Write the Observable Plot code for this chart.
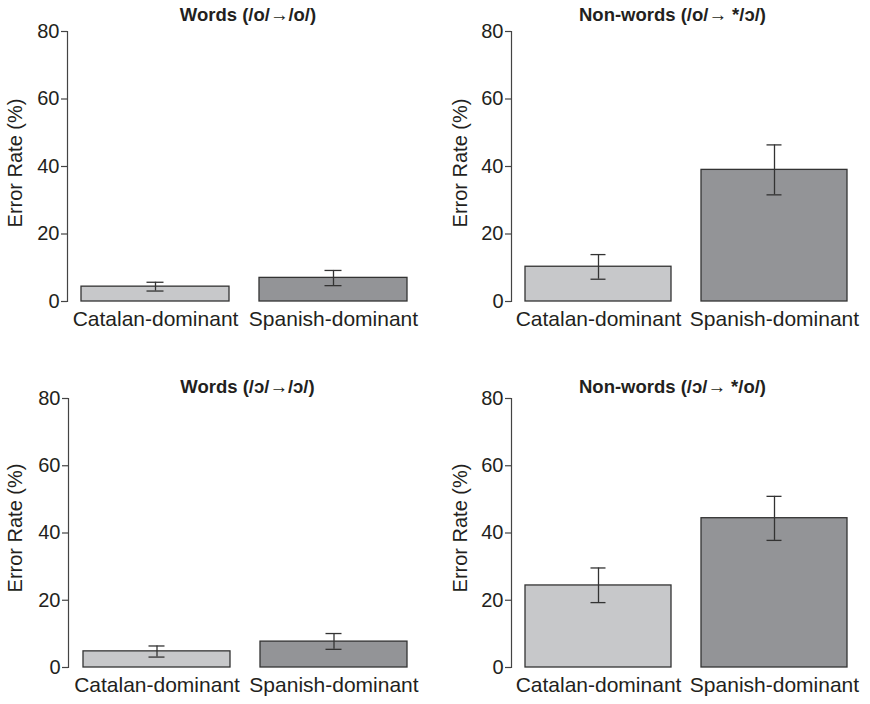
<!DOCTYPE html>
<html>
<head>
<meta charset="utf-8">
<script src="https://cdn.jsdelivr.net/npm/d3@7"></script>
<script src="https://cdn.jsdelivr.net/npm/@observablehq/plot@0.6"></script>
<style>
  html, body { margin: 0; padding: 0; background: #fff; }
  #wrap { position: relative; width: 870px; height: 704px; overflow: hidden; }
  #wrap svg { position: absolute; }
</style>
</head>
<body>
<div id="wrap"></div>
<script>
// ---- data ----
const groups = ["Catalan-dominant", "Spanish-dominant"];
const titles = ["Words (/o/→/o/)", "Non-words (/o/→ */ɔ/)", "Words (/ɔ/→/ɔ/)", "Non-words (/ɔ/→ */o/)"];
const meanWordsO = [4.4, 7.0];
const meanNonwordsO = [10.3, 39.0];
const meanWordsOpen = [4.8, 7.7];
const meanNonwordsOpen = [24.4, 44.4];
const lowWordsO = [3.1, 4.7];
const lowNonwordsO = [6.6, 31.6];
const lowWordsOpen = [3.1, 5.4];
const lowNonwordsOpen = [19.3, 37.8];
const highWordsO = [5.7, 9.2];
const highNonwordsO = [13.9, 46.4];
const highWordsOpen = [6.4, 10.1];
const highNonwordsOpen = [29.6, 50.9];
const yTicks = [0, 20, 40, 60, 80];
const yLabel = "Error Rate (%)";
const barColors = ["#c7c8ca", "#939497"];

const panels = [
  {title: titles[0], mean: meanWordsO, lo: lowWordsO, hi: highWordsO, left: 0, top: 0, h: 340, mt: 31, mb: 39, ml: 67, mr: 14, tdx: 3.5, tdy: -11, ldx: -52, ldy: -3.5},
  {title: titles[1], mean: meanNonwordsO, lo: lowNonwordsO, hi: highNonwordsO, left: 435, top: 0, h: 340, mt: 31, mb: 39, ml: 76, mr: 9, tdx: -14, tdy: -11, ldx: -51, ldy: -3.5},
  {title: titles[2], mean: meanWordsOpen, lo: lowWordsOpen, hi: highWordsOpen, left: 0, top: 360, h: 344, mt: 38, mb: 37, ml: 68, mr: 14, tdx: 2.5, tdy: -6, ldx: -53, ldy: -5},
  {title: titles[3], mean: meanNonwordsOpen, lo: lowNonwordsOpen, hi: highNonwordsOpen, left: 435, top: 360, h: 344, mt: 38, mb: 37, ml: 76, mr: 9, tdx: -14, tdy: -6, ldx: -51, ldy: -5}
];

const wrap = document.getElementById("wrap");
for (const p of panels) {
  const rows = groups.map((g, i) => ({group: g, mean: p.mean[i], lo: p.lo[i], hi: p.hi[i]}));
  const chart = Plot.plot({
    width: 435,
    height: p.h,
    marginTop: p.mt,
    marginBottom: p.mb,
    marginLeft: p.ml,
    marginRight: p.mr,
    style: {fontFamily: "'Liberation Sans', Arial, sans-serif", color: "#231f20", background: "#fff", overflow: "visible"},
    x: {domain: groups, paddingInner: 0.17, paddingOuter: 0.079},
    y: {domain: [0, 80]},
    color: {domain: groups, range: barColors},
    marks: [
      Plot.barY(rows, {x: "group", y: "mean", fill: "group", stroke: "#333", strokeWidth: 1.3}),
      Plot.ruleX(rows, {x: "group", y1: "lo", y2: "hi", stroke: "#333", strokeWidth: 1.3}),
      Plot.tickY(rows, {x: "group", y: "lo", insetLeft: 65.5, insetRight: 65.5, stroke: "#333", strokeWidth: 1.3}),
      Plot.tickY(rows, {x: "group", y: "hi", insetLeft: 65.5, insetRight: 65.5, stroke: "#333", strokeWidth: 1.3}),
      Plot.frame({anchor: "left", stroke: "#444", strokeWidth: 1.2}),
      Plot.axisY({ticks: yTicks, tickSize: 6, tickPadding: 2, fontSize: 20, label: null, stroke: "#444", strokeWidth: 1.2}),
      Plot.axisX({tickSize: 0, tickPadding: 10, fontSize: 21, label: null}),
      Plot.text([p.title], {frameAnchor: "top", text: d => d, dx: p.tdx, dy: p.tdy, textAnchor: "middle", lineAnchor: "bottom", fontSize: 18.5, fontWeight: "bold", fill: "#231f20"}),
      Plot.text([yLabel], {frameAnchor: "left", text: d => d, rotate: -90, dx: p.ldx, dy: p.ldy, textAnchor: "middle", lineAnchor: "middle", fontSize: 20, fill: "#231f20"})
    ]
  });
  chart.style.left = p.left + "px";
  chart.style.top = p.top + "px";
  wrap.appendChild(chart);
}
</script>
</body>
</html>
